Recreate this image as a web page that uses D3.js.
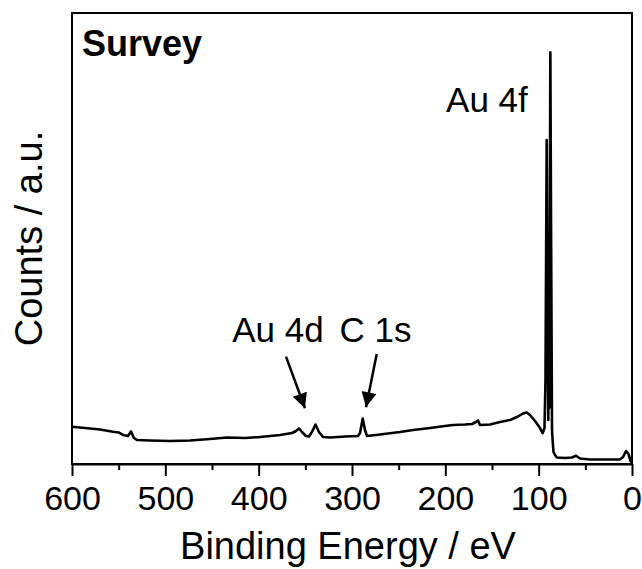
<html lang="en">
<head>
  <meta http-equiv="Content-Type" content="text/html; charset=utf-8" />
  <script src="https://d3js.org/d3.v7.min.js"></script>
  <style>
    body { margin: 0; background: white; }
  </style>
</head>
<body>
  <div id="divId"></div>

  <script>
    'use strict';
    const width = 642;
    const height = 569;
    const margin = {top: 13, right: 10, bottom: 105, left: 72};
    const fontFamily = "'Liberation Sans', Arial, sans-serif";

    // spectrum (binding energy / eV, counts / a.u.)
    const energy = [600, 586.1, 570, 556.1, 549.6, 545.0, 540, 536.8, 533.6, 530.4,
      516.4, 495, 473.6, 452.1, 433.9, 414.6, 398.6, 377.1, 364.3, 360,
      356.8, 353.6, 349.3, 346.1, 342.9, 339.1, 335.4, 331.1, 323.6, 307.5,
      293.6, 291.4, 288.5, 286.1, 283.9, 270, 248.6, 234.6, 216.4, 200.4,
      191.8, 178.9, 171.4, 167.1, 165, 162.9, 152.1, 141.4, 130.7, 122.1,
      116.8, 112.8, 109.3, 103.9, 98.6, 95.7, 93.75, 92.7, 91.4, 90.5,
      89.7, 89.1, 88.6, 87.5, 86.6, 85.7, 84.9, 84.1, 82.5, 80.4, 71.8,
      64.3, 60, 55.7, 45, 28.9, 12.9, 9.6, 6.4, 3.75, 1.4, 0];
    const counts = [8.27, 7.98, 7.65, 7.16, 6.98, 6.43, 6.21, 7.21, 5.76, 5.32,
      5.21, 5.10, 5.21, 5.54, 5.88, 5.76, 5.99, 6.43, 6.87, 7.32,
      7.87, 7.10, 6.21, 6.10, 7.10, 8.76, 7.10, 5.99, 5.88, 6.10,
      6.21, 6.87, 10.09, 7.54, 6.21, 6.54, 7.10, 7.54, 7.98, 8.43,
      8.65, 8.76, 8.87, 9.31, 9.65, 8.65, 8.76, 9.31, 9.76, 10.53,
      11.20, 11.42, 10.86, 9.53, 7.98, 6.87, 7.98, 18.63, 71.84, 36.36,
      9.76, 30.2, 12.5, 91.29, 47.45, 7.54, 4.88, 2.66, 2.00, 1.44, 1.33,
      1.44, 1.82, 1.22, 1.00, 1.00, 1.00, 1.55, 2.88, 2.22, 0.55, 0.33];

    const xTicks = [600, 500, 400, 300, 200, 100, 0];
    const xMinorTicks = [550, 450, 350, 250, 150, 50];

    // peak labels and arrows
    const labels = ["Au 4f", "Au 4d", "C 1s"];
    const labelEnergy = [155.4, 379.3, 274.8];
    const labelCounts = [78.05, 27.05, 27.05];
    const arrowFromE = [370.7, 273.5];
    const arrowFromC = [23.8, 24.4];
    const arrowToE = [350.4, 285];
    const arrowToC = [12.35, 12.57];

    const data = energy.map((e, i) => ({e: e, c: counts[i]}));

    const innerW = width - margin.left - margin.right;
    const innerH = height - margin.top - margin.bottom;

    const x = d3.scaleLinear().domain([600, 0]).range([0, innerW]);
    const y = d3.scaleLinear().domain([0, 100]).range([innerH, 0]);

    const root = d3.select("#divId")
      .append("svg")
      .attr("width", width)
      .attr("height", height);

    root.append("defs").append("marker")
      .attr("id", "head")
      .attr("viewBox", "0 0 10 10")
      .attr("refX", 10)
      .attr("refY", 5)
      .attr("markerUnits", "userSpaceOnUse")
      .attr("markerWidth", 16)
      .attr("markerHeight", 15)
      .attr("orient", "auto")
      .append("path")
      .attr("d", "M0,0 L10,5 L0,10 Z")
      .attr("fill", "black");

    const svg = root.append("g")
      .attr("transform", `translate(${margin.left}, ${margin.top})`);

    // spectrum line
    const line = d3.line()
      .x(d => x(d.e))
      .y(d => y(d.c));

    svg.append("path")
      .datum(data)
      .attr("fill", "none")
      .attr("stroke", "black")
      .attr("stroke-width", 2.6)
      .attr("stroke-linejoin", "round")
      .attr("d", line);

    // frame
    svg.append("rect")
      .attr("width", innerW)
      .attr("height", innerH)
      .attr("fill", "none")
      .attr("stroke", "black")
      .attr("stroke-width", 2);

    // x axis, major + minor ticks
    const xAxis = svg.append("g")
      .attr("transform", `translate(0, ${innerH})`)
      .call(d3.axisBottom(x).tickValues(xTicks).tickSize(12).tickSizeOuter(0)
        .tickPadding(10).tickFormat(d3.format("d")));
    xAxis.select(".domain").attr("stroke-width", 2);
    xAxis.selectAll(".tick line").attr("stroke-width", 2);
    xAxis.selectAll("text")
      .style("font-family", fontFamily)
      .style("font-size", "34px")
      .attr("fill", "black");

    const xMinor = svg.append("g")
      .attr("transform", `translate(0, ${innerH})`)
      .call(d3.axisBottom(x).tickValues(xMinorTicks).tickSize(6).tickSizeOuter(0).tickFormat(""));
    xMinor.select(".domain").remove();
    xMinor.selectAll(".tick line").attr("stroke-width", 2);

    // axis titles
    root.append("text")
      .attr("x", margin.left + innerW / 2 - 4)
      .attr("y", 559)
      .attr("text-anchor", "middle")
      .style("font-family", fontFamily)
      .style("font-size", "38px")
      .text("Binding Energy / eV");

    root.append("text")
      .attr("transform", `translate(42, ${margin.top + innerH / 2}) rotate(-90)`)
      .attr("text-anchor", "middle")
      .style("font-family", fontFamily)
      .style("font-size", "38px")
      .text("Counts / a.u.");

    // panel label
    svg.append("text")
      .attr("x", 10)
      .attr("y", 43)
      .style("font-family", fontFamily)
      .style("font-size", "36px")
      .style("font-weight", "bold")
      .text("Survey");

    // peak labels
    labels.forEach((t, i) => {
      svg.append("text")
        .attr("x", x(labelEnergy[i]))
        .attr("y", y(labelCounts[i]))
        .attr("text-anchor", "middle")
        .style("font-family", fontFamily)
        .style("font-size", "35px")
        .text(t);
    });

    arrowFromE.forEach((e, i) => {
      svg.append("line")
        .attr("x1", x(e))
        .attr("y1", y(arrowFromC[i]))
        .attr("x2", x(arrowToE[i]))
        .attr("y2", y(arrowToC[i]))
        .attr("stroke", "black")
        .attr("stroke-width", 2.5)
        .attr("marker-end", "url(#head)");
    });
  </script>
</body>
</html>
